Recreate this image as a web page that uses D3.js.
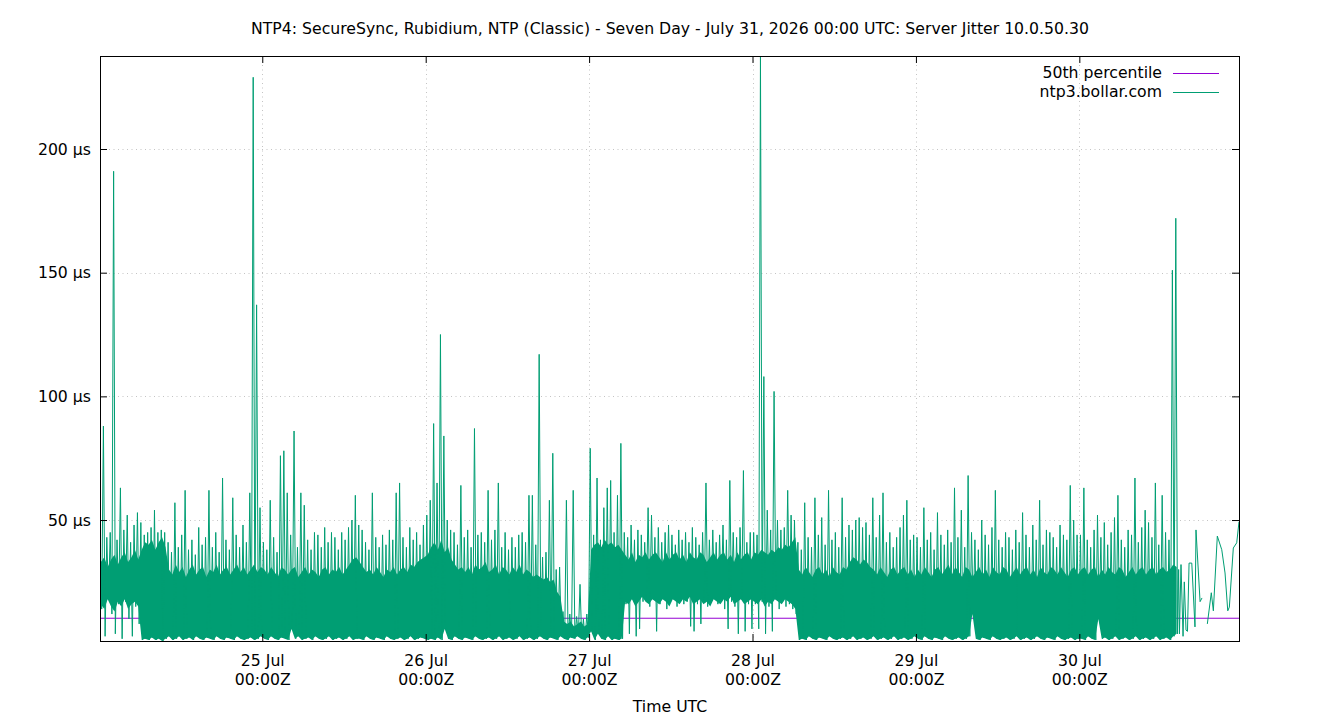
<!DOCTYPE html>
<html>
<head>
<meta charset="utf-8">
<script src="https://cdn.jsdelivr.net/npm/d3@7"></script>
<style>
body { margin: 0; background: #fff; }
text { font-family: "DejaVu Sans", sans-serif; fill: #000; }
</style>
</head>
<body>
<div id="app"></div>
<script>
const chartTitle = "NTP4: SecureSync, Rubidium, NTP (Classic) - Seven Day - July 31, 2026 00:00 UTC: Server Jitter 10.0.50.30";
const xTitle = "Time UTC";
const seriesNames = ["50th percentile", "ntp3.bollar.com"];
const startTime = "2026-07-24T00:10:00Z";
const endTime = "2026-07-30T23:27:00Z";
const xTickDates = ["2026-07-25", "2026-07-26", "2026-07-27", "2026-07-28", "2026-07-29", "2026-07-30"];
const xTickDays = ["25 Jul", "26 Jul", "27 Jul", "28 Jul", "29 Jul", "30 Jul"];
const xTickTime = "00:00Z";
const yTicks = [50, 100, 150, 200];
const yRange = [1.1, 237.6];
const p50Value = 10.3;

// half-hour bins (µs): hi = highest sample, lo = lowest sample,
// band / floor = top and bottom of the dense part
const hi24 = [40, 88, 43, 45, 191, 42, 63, 46, 52, 41, 48, 53, 49, 44, 45, 47, 54, 45, 46, 45, 41, 37, 57, 39, 44, 62, 38, 42, 36, 47, 40, 43, 62, 39, 45, 37, 67, 42, 38, 59, 44, 39, 48, 41, 61, 229, 137, 55];
const lo24 = [14, 3, 18, 12, 4, 16, 2, 17, 10, 3, 15, 8, 1.5, 2, 1.5, 2.5, 1.5, 2, 1.1, 2, 3, 1.5, 2, 3, 1.5, 2, 2.5, 1.5, 3, 2, 1.5, 2.5, 2, 1.5, 3, 2, 1.5, 2.5, 2, 1.5, 3, 2, 1.5, 2, 2.5, 1.5, 2, 3];
const band24 = [33, 35, 31, 34, 36, 32, 35, 37, 33, 35, 38, 34, 38, 41, 40, 42, 38, 41, 43, 39, 30, 28, 32, 29, 31, 27, 30, 32, 28, 30, 31, 27, 30, 29, 32, 28, 30, 31, 28, 30, 32, 29, 31, 28, 30, 32, 29, 31];
const floor24 = [16, 14, 18, 15, 13, 17, 15, 18, 14, 16, 17, 15, 1.5, 2, 1.5, 2.5, 1.5, 2, 1.1, 2, 3, 1.5, 2, 3, 1.5, 2, 2.5, 1.5, 3, 2, 1.5, 2.5, 2, 1.5, 3, 2, 1.5, 2.5, 2, 1.5, 3, 2, 1.5, 2, 2.5, 1.5, 2, 3];
const hi25 = [41, 38, 58, 43, 37, 76, 78, 61, 44, 86, 39, 61, 56, 42, 38, 45, 44, 39, 47, 41, 45, 43, 38, 45, 42, 47, 50, 60, 48, 46, 41, 38, 61, 43, 39, 44, 40, 46, 42, 61, 65, 43, 39, 47, 42, 45, 40, 48];
const lo25 = [2, 1.5, 3, 2, 1.5, 2.5, 2, 1.5, 6, 2, 3, 1.5, 2, 2.5, 1.5, 3, 2, 1.5, 2, 3, 1.5, 2, 2.5, 1.5, 2, 3, 1.5, 2, 2, 1.5, 3, 2, 1.5, 2.5, 2, 1.5, 3, 2, 1.5, 2, 2.5, 1.5, 2, 3, 1.5, 2, 2.5, 2];
const band25 = [30, 28, 31, 29, 27, 31, 30, 28, 30, 31, 27, 29, 31, 28, 30, 29, 27, 30, 31, 28, 30, 29, 31, 28, 30, 32, 34, 35, 33, 31, 29, 30, 28, 31, 29, 27, 30, 29, 31, 28, 30, 31, 29, 32, 31, 33, 34, 35];
const hi26 = [52, 58, 89, 65, 125, 84, 50, 46, 45, 40, 64, 43, 46, 39, 87, 44, 45, 41, 62, 42, 46, 65, 39, 45, 38, 43, 39, 44, 45, 41, 60, 60, 40, 117, 35, 37, 58, 77, 30, 31, 13, 58, 12, 62, 11, 24, 10, 12];
const lo26 = [1.5, 2, 1.5, 2.5, 1.5, 6, 2, 1.5, 3, 2, 1.5, 2.5, 2, 1.5, 3, 2, 1.5, 2, 2.5, 1.5, 2, 3, 1.5, 2, 2.5, 1.5, 2, 3, 1.5, 2, 2.5, 1.5, 2, 3, 2, 1.5, 2.5, 2, 1.5, 3, 2, 1.5, 2.5, 2, 3, 2, 1.5, 2.5];
const band26 = [36, 39, 41, 38, 42, 37, 39, 34, 32, 30, 31, 29, 31, 28, 32, 30, 31, 33, 29, 30, 32, 28, 31, 30, 28, 31, 29, 32, 28, 30, 29, 27, 28, 27, 26, 27, 25, 26, 21, 19, 9, 8, 9, 7, 8, 9, 7, 8];
const hi27 = [79, 44, 67, 42, 55, 63, 66, 45, 60, 81, 45, 43, 48, 42, 46, 44, 41, 55, 52, 43, 47, 41, 45, 48, 44, 40, 46, 42, 45, 41, 47, 43, 40, 45, 65, 42, 46, 41, 44, 48, 42, 66, 45, 43, 47, 70, 41, 45];
const lo27 = [5, 1.5, 4, 2, 1.5, 3, 1.5, 2, 1.5, 2, 16, 4, 18, 3, 6, 17, 19, 15, 18, 5, 16, 19, 14, 17, 18, 15, 19, 16, 17, 7, 5, 16, 8, 18, 15, 17, 19, 16, 18, 14, 6, 17, 15, 4, 18, 5, 16, 6];
const band27 = [38, 40, 41, 39, 42, 40, 41, 39, 40, 38, 36, 34, 37, 33, 36, 35, 37, 34, 36, 37, 35, 33, 37, 34, 36, 37, 34, 36, 33, 37, 35, 34, 37, 36, 33, 35, 37, 34, 36, 37, 34, 36, 33, 37, 34, 36, 37, 34];
const floor27 = [5, 1.5, 4, 2, 1.5, 3, 1.5, 2, 1.5, 2, 17, 16, 18, 15, 17, 19, 17, 16, 18, 17, 16, 18, 17, 15, 18, 17, 16, 18, 17, 19, 16, 17, 18, 16, 17, 15, 18, 17, 16, 18, 17, 19, 16, 17, 18, 16, 17, 18];
const hi28 = [45, 44, 237.6, 108, 54, 46, 102, 50, 46, 47, 62, 52, 50, 41, 38, 57, 43, 39, 59, 44, 51, 40, 62, 42, 45, 39, 59, 43, 48, 46, 50, 51, 47, 49, 44, 59, 43, 52, 61, 41, 45, 39, 43, 47, 52, 58, 42, 44];
const lo28 = [16, 6, 17, 4, 15, 5, 18, 14, 17, 15, 16, 14, 12, 1.5, 2, 1.5, 3, 2, 1.5, 2.5, 2, 1.5, 3, 2, 1.5, 2, 2.5, 1.5, 2, 3, 1.5, 2, 2.5, 1.5, 2, 3, 1.5, 2, 2.5, 1.5, 2, 3, 1.5, 2, 2.5, 1.5, 2, 3];
const band28 = [37, 36, 38, 37, 36, 38, 37, 39, 38, 40, 39, 41, 43, 30, 28, 31, 29, 27, 30, 31, 28, 30, 27, 31, 29, 28, 31, 30, 33, 35, 34, 32, 34, 33, 31, 30, 28, 31, 29, 27, 30, 31, 28, 30, 31, 28, 30, 27];
const floor28 = [17, 16, 18, 15, 17, 16, 18, 17, 16, 18, 17, 16, 14, 1.5, 2, 1.5, 3, 2, 1.5, 2.5, 2, 1.5, 3, 2, 1.5, 2, 2.5, 1.5, 2, 3, 1.5, 2, 2.5, 1.5, 2, 3, 1.5, 2, 2.5, 1.5, 2, 3, 1.5, 2, 2.5, 1.5, 2, 3];
const hi29 = [43, 39, 55, 42, 45, 38, 53, 44, 40, 46, 41, 63, 43, 54, 39, 68, 45, 42, 38, 50, 44, 40, 47, 62, 42, 39, 45, 43, 38, 46, 41, 53, 44, 39, 48, 42, 58, 40, 46, 45, 43, 39, 48, 44, 42, 64, 50, 44];
const lo29 = [2, 1.5, 3, 2, 1.5, 2.5, 2, 1.5, 3, 2, 1.5, 2, 2.5, 1.5, 2, 3, 12, 2, 1.5, 2.5, 2, 1.5, 3, 2, 1.5, 2, 2.5, 1.5, 2, 3, 1.5, 2, 2.5, 1.5, 2, 3, 2, 1.5, 2.5, 2, 1.5, 3, 2, 1.5, 2, 2.5, 1.5, 2];
const band29 = [30, 28, 31, 29, 27, 30, 31, 28, 30, 32, 28, 31, 29, 27, 31, 30, 27, 29, 31, 28, 30, 27, 31, 29, 28, 31, 30, 27, 29, 31, 28, 30, 31, 28, 30, 27, 31, 29, 28, 31, 30, 28, 31, 29, 27, 30, 31, 28];
const hi30 = [44, 63, 42, 39, 46, 52, 43, 49, 40, 45, 51, 60, 42, 39, 46, 44, 67, 41, 47, 54, 49, 43, 65, 40, 60, 45, 42, 151, 172];
const lo30 = [2, 1.5, 3, 2, 1.5, 10, 2, 2.5, 1.5, 2, 3, 1.5, 2, 2.5, 1.5, 2, 3, 1.5, 2, 2.5, 1.5, 2, 3, 1.5, 2, 2.5, 1.5, 3, 4];
const band30 = [30, 31, 28, 30, 31, 27, 30, 28, 31, 29, 28, 31, 30, 27, 29, 31, 28, 30, 31, 28, 30, 31, 28, 30, 31, 29, 30, 32, 31];

// sparse samples at the end of 30 Jul (null = no data)
const tailTimes = ["14:35", "14:42", "14:56", "15:14", "15:25", "15:40", "15:53", "16:07", "16:31", "16:59", "17:08", "17:44", "18:01", "18:25", "18:48", "19:23", "19:41", "20:16", "20:55", "21:24", "21:48", "22:02", "22:37", "23:07", "23:27"];
const tailValues = [30, 4, 32, 3, 25, 5.5, 5, 32.6, 32.6, 6.8, 46, 17, 18.5, null, 8, 20.6, 13.3, 43.5, 38, 28.6, 13.3, 14.8, 38.7, 40.8, 49.3];

const w = 1340, h = 720;
const m = { left: 100, right: 1239, top: 56, bottom: 641 };
const fs = "15.7px";

const svg = d3.select("#app")
    .append("svg")
    .attr("width", w)
    .attr("height", h)
    .style("display", "block");

const x = d3.scaleUtc()
    .domain([new Date(startTime), new Date(endTime)])
    .range([m.left, m.right]);

const y = d3.scaleLinear()
    .domain(yRange)
    .range([m.bottom, m.top]);

const his = [hi24, hi25, hi26, hi27, hi28, hi29, hi30];
const los = [lo24, lo25, lo26, lo27, lo28, lo29, lo30];
const bands = [band24, band25, band26, band27, band28, band29, band30];
const floors = [floor24, lo25, lo26, floor27, floor28, lo29, lo30];
const t0 = new Date(startTime).getTime();
const halfHour = 30 * 60 * 1000;
const data = [];
const bins = [];
his.forEach((arr, i) => {
    arr.forEach((v, k) => {
        const t = t0 + (i * 48 + k) * halfHour;
        data.push({ t: new Date(t), v: v });
        data.push({ t: new Date(t + halfHour / 2), v: los[i][k] });
        bins.push({ t: new Date(t + halfHour / 4), lo: floors[i][k], top: bands[i][k] });
    });
});
tailTimes.forEach((s, i) => {
    data.push({ t: new Date("2026-07-30T" + s + ":00Z"), v: tailValues[i] });
});

const p50 = [{ t: new Date(startTime), v: p50Value }, { t: new Date(endTime), v: p50Value }];

svg.append("defs").append("clipPath")
    .attr("id", "clip")
    .append("rect")
    .attr("x", m.left)
    .attr("y", m.top)
    .attr("width", m.right - m.left)
    .attr("height", m.bottom - m.top);

const tickDates = xTickDates.map(d => new Date(d + "T00:00:00Z"));

// grid
svg.append("g")
    .selectAll("line")
    .data(tickDates)
    .enter()
    .append("line")
    .attr("x1", d => Math.round(x(d)) + 0.5)
    .attr("x2", d => Math.round(x(d)) + 0.5)
    .attr("y1", m.top)
    .attr("y2", m.bottom)
    .attr("stroke", "#c4c4c4")
    .attr("stroke-dasharray", "1,3.5");

svg.append("g")
    .selectAll("line")
    .data(yTicks)
    .enter()
    .append("line")
    .attr("x1", m.left)
    .attr("x2", m.right)
    .attr("y1", d => Math.round(y(d)) + 0.5)
    .attr("y2", d => Math.round(y(d)) + 0.5)
    .attr("stroke", "#c4c4c4")
    .attr("stroke-dasharray", "1,3.5");

const line = d3.line()
    .defined(d => d.v !== null)
    .x(d => x(d.t))
    .y(d => y(d.v));

const area = d3.area()
    .x(d => x(d.t))
    .y0(d => y(d.lo))
    .y1(d => y(d.top));

svg.append("path")
    .datum(p50)
    .attr("clip-path", "url(#clip)")
    .attr("d", line)
    .attr("fill", "none")
    .attr("stroke", "#9400d3")
    .attr("stroke-width", 1);

svg.append("path")
    .datum(bins)
    .attr("clip-path", "url(#clip)")
    .attr("d", area)
    .attr("fill", "#009e73");

svg.append("path")
    .datum(data)
    .attr("clip-path", "url(#clip)")
    .attr("d", line)
    .attr("fill", "none")
    .attr("stroke", "#009e73")
    .attr("stroke-width", 1)
    .attr("stroke-linejoin", "round");

// axes
const xAxis = d3.axisBottom(x)
    .tickValues(tickDates)
    .tickSize(-7)
    .tickPadding(14)
    .tickFormat((d, i) => xTickDays[i]);

const gx = svg.append("g")
    .attr("transform", "translate(0," + m.bottom + ")")
    .call(xAxis);
gx.selectAll(".tick text")
    .style("font-size", fs)
    .attr("font-family", null)
    .each(function () {
        d3.select(this).append("tspan")
            .attr("x", 0)
            .attr("dy", "1.22em")
            .text(xTickTime);
    });

svg.append("g")
    .attr("transform", "translate(0," + m.top + ")")
    .call(d3.axisTop(x).tickValues(tickDates).tickSize(-7).tickFormat(""));

const gy = svg.append("g")
    .attr("transform", "translate(" + m.left + ",0)")
    .call(d3.axisLeft(y).tickValues(yTicks).tickSize(-7).tickPadding(9).tickFormat(d => d + " µs"));
gy.selectAll(".tick text")
    .style("font-size", fs)
    .attr("font-family", null);

svg.append("g")
    .attr("transform", "translate(" + m.right + ",0)")
    .call(d3.axisRight(y).tickValues(yTicks).tickSize(-7).tickFormat(""));

svg.selectAll(".domain").remove();
svg.selectAll(".tick line").attr("stroke", "#000");

svg.append("rect")
    .attr("x", m.left + 0.5)
    .attr("y", m.top + 0.5)
    .attr("width", m.right - m.left)
    .attr("height", m.bottom - m.top)
    .attr("fill", "none")
    .attr("stroke", "#000")
    .attr("stroke-width", 1);

// titles
svg.append("text")
    .attr("x", 670)
    .attr("y", 34)
    .attr("text-anchor", "middle")
    .style("font-size", fs)
    .text(chartTitle);

svg.append("text")
    .attr("x", 670)
    .attr("y", 712)
    .attr("text-anchor", "middle")
    .style("font-size", fs)
    .text(xTitle);

// legend
const legendColors = ["#9400d3", "#009e73"];
const lg = svg.append("g");
seriesNames.forEach((name, i) => {
    const ly = 73 + i * 19;
    lg.append("text")
        .attr("x", 1162)
        .attr("y", ly)
        .attr("dy", "0.35em")
        .attr("text-anchor", "end")
        .style("font-size", fs)
        .text(name);
    lg.append("line")
        .attr("x1", 1173)
        .attr("x2", 1219)
        .attr("y1", ly + 0.5)
        .attr("y2", ly + 0.5)
        .attr("stroke", legendColors[i])
        .attr("stroke-width", 1);
});
</script>
</body>
</html>
